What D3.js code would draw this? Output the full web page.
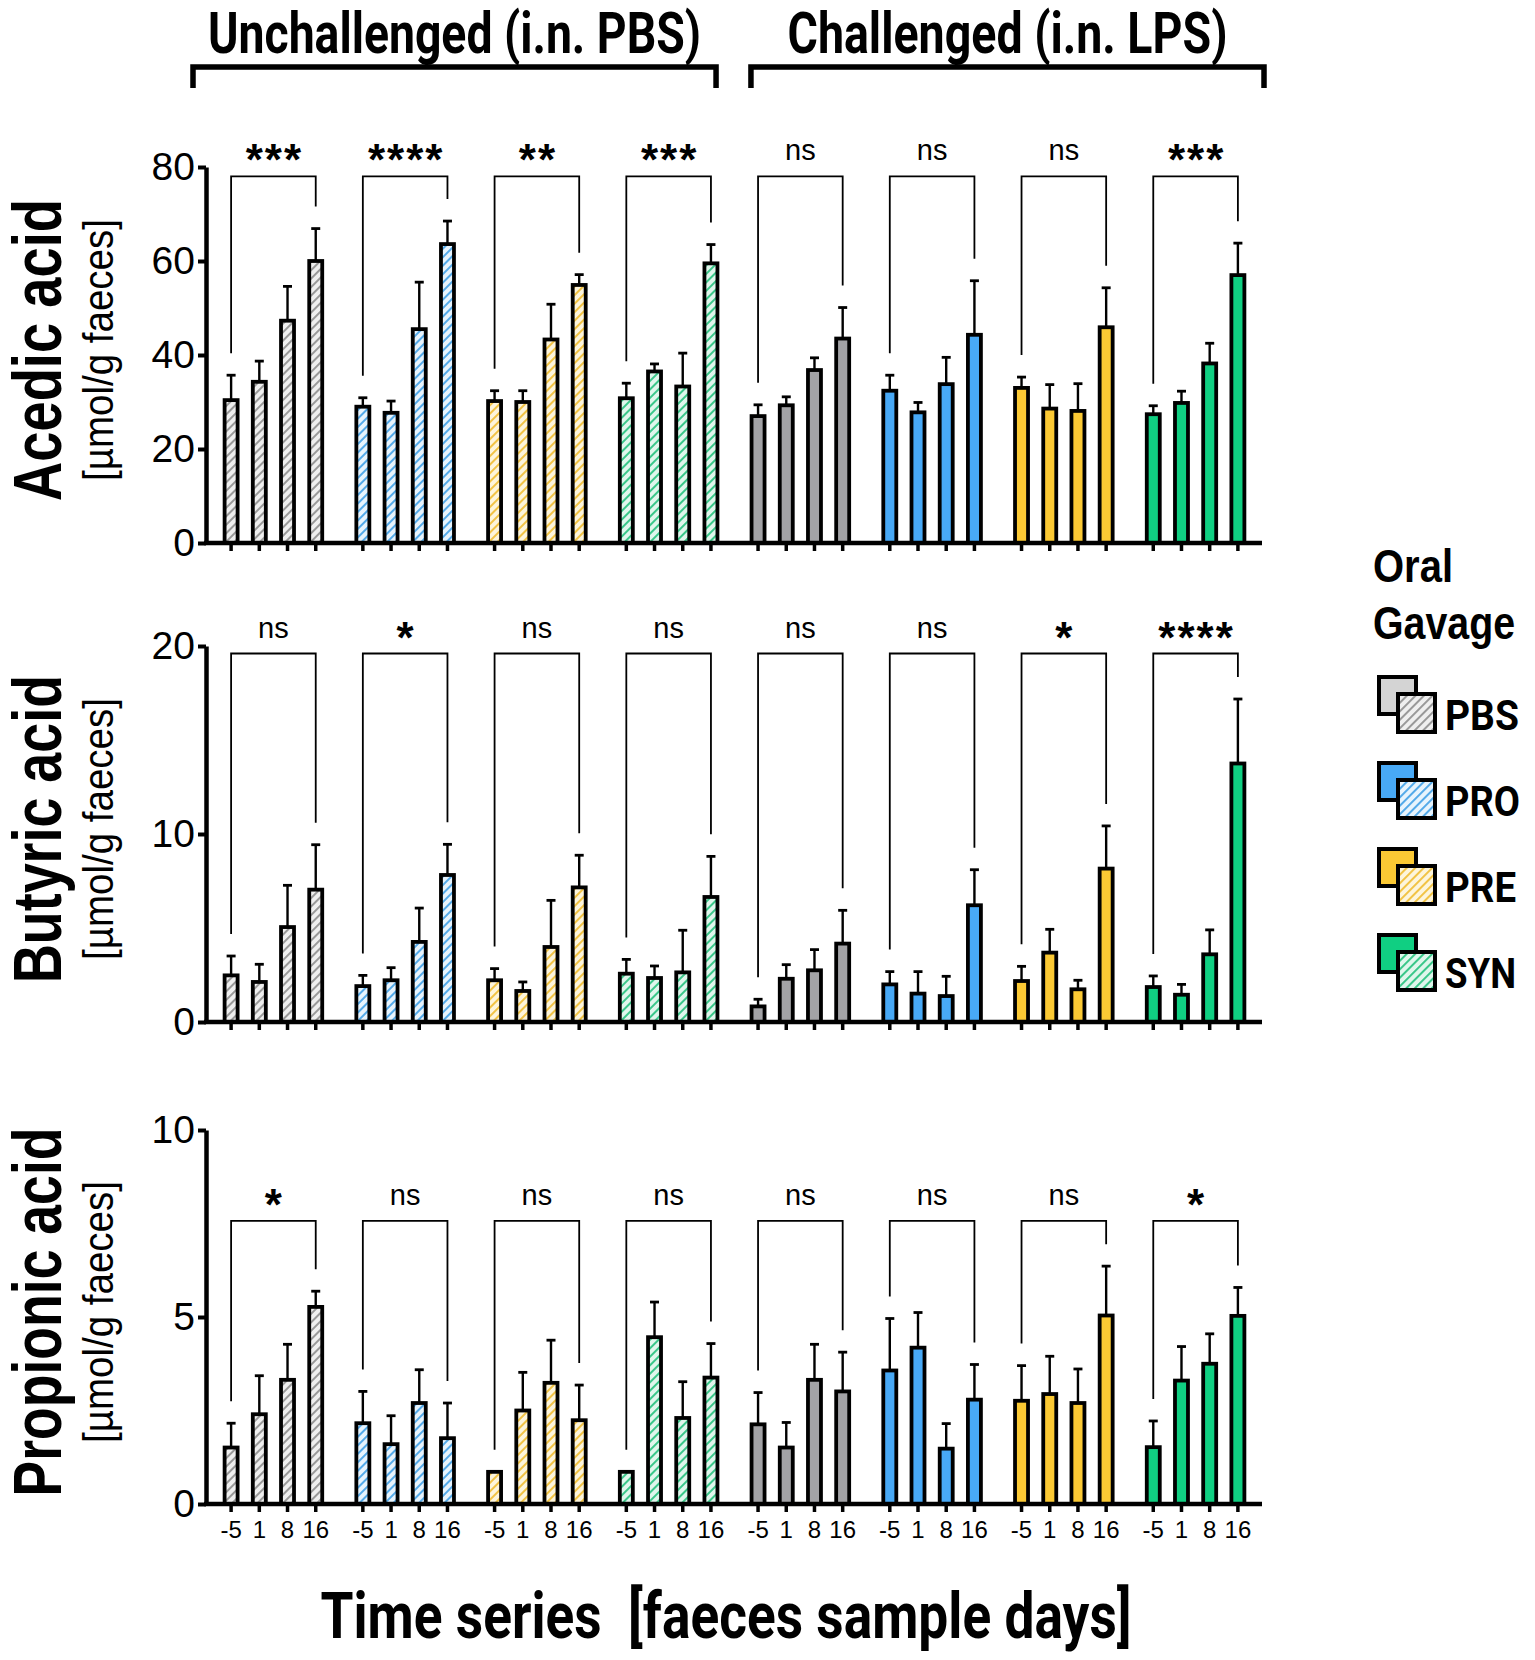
<!DOCTYPE html>
<html>
<head>
<meta charset="utf-8">
<script src="https://cdn.jsdelivr.net/npm/d3@7"></script>
<style>
  body { margin: 0; background: #fff; }
  svg { display: block; }
</style>
</head>
<body>
<svg id="fig" width="1535" height="1660"></svg>
<script>
// sample days and groups
const days = ['-5', '1', '8', '16'];
const gavages = ['PBS', 'PRO', 'PRE', 'SYN'];
const challenges = ['PBS', 'LPS']; // i.n. PBS = unchallenged, i.n. LPS = challenged
const groupKeys = challenges.flatMap(c => gavages.map(g => c + '_' + g));

// means per group (unchallenged PBS, PRO, PRE, SYN, then challenged ...), one value per day
const aceticMean = [
    [30.4, 34.3, 47.3, 60.0], [29.0, 27.7, 45.5, 63.6], [30.2, 30.0, 43.3, 54.9], [30.8, 36.5, 33.3, 59.5],
    [27.0, 29.3, 36.8, 43.5], [32.4, 27.8, 33.8, 44.3], [33.0, 28.6, 28.1, 45.9], [27.4, 29.8, 38.2, 57.0]
];
const aceticSd = [
    [5.3, 4.4, 7.3, 6.9], [1.9, 2.5, 10.0, 4.9], [2.2, 2.4, 7.5, 2.2], [3.2, 1.6, 7.1, 4.0],
    [2.4, 1.8, 2.6, 6.6], [3.3, 2.1, 5.7, 11.5], [2.3, 5.1, 5.8, 8.4], [1.8, 2.5, 4.3, 6.8]
];
const aceticSig = ['***', '****', '**', '***', 'ns', 'ns', 'ns', '***'];

const butyricMean = [
    [2.48, 2.13, 5.05, 7.04], [1.91, 2.22, 4.26, 7.82], [2.22, 1.65, 3.99, 7.16], [2.57, 2.34, 2.64, 6.65],
    [0.83, 2.30, 2.75, 4.17], [2.00, 1.51, 1.38, 6.21], [2.18, 3.69, 1.74, 8.16], [1.86, 1.45, 3.60, 13.75]
];
const butyricSd = [
    [1.03, 0.94, 2.22, 2.39], [0.57, 0.67, 1.80, 1.63], [0.62, 0.48, 2.48, 1.71], [0.76, 0.64, 2.24, 2.16],
    [0.38, 0.75, 1.10, 1.77], [0.68, 1.17, 1.05, 1.89], [0.78, 1.24, 0.48, 2.27], [0.59, 0.55, 1.30, 3.43]
];
const butyricSig = ['ns', '*', 'ns', 'ns', 'ns', 'ns', '*', '****'];

const propionicMean = [
    [1.51, 2.40, 3.32, 5.27], [2.16, 1.60, 2.70, 1.76], [0.86, 2.50, 3.24, 2.24], [0.86, 4.46, 2.30, 3.38],
    [2.13, 1.51, 3.32, 3.01], [3.57, 4.18, 1.48, 2.79], [2.76, 2.94, 2.70, 5.04], [1.52, 3.30, 3.75, 5.03]
];
const propionicSd = [
    [0.65, 1.03, 0.95, 0.42], [0.85, 0.76, 0.89, 0.94], [0, 1.02, 1.14, 0.94], [0, 0.94, 0.97, 0.91],
    [0.85, 0.67, 0.95, 1.05], [1.39, 0.94, 0.67, 0.94], [0.94, 1.01, 0.91, 1.32], [0.70, 0.91, 0.80, 0.76]
];
const propionicSig = ['*', 'ns', 'ns', 'ns', 'ns', 'ns', 'ns', '*'];

const aceticTicks = [0, 20, 40, 60, 80];
const butyricTicks = [0, 10, 20];
const propionicTicks = [0, 5, 10];

// colours
const solidColor = { PBS: '#a3a3a6', PRO: '#48a9f6', PRE: '#fbc934', SYN: '#10cf82' };
const hatchLine = { PBS: '#8a8a8a', PRO: '#3a9de6', PRE: '#f0ba2a', SYN: '#1dbf78' };
const hatchBg = { PBS: '#efefef', PRO: '#e8f4fd', PRE: '#fdf5dc', SYN: '#e0f6ec' };
const legendBack = { PBS: '#d4d4d4', PRO: '#48a9f6', PRE: '#fbc934', SYN: '#10cf82' };

const panels = [
    { label: 'Acedic acid', mean: aceticMean, sd: aceticSd, sig: aceticSig, ticks: aceticTicks, max: 80, bracketAt: 78, top: 167, bottom: 543, labelLen: 302 },
    { label: 'Butyric acid', mean: butyricMean, sd: butyricSd, sig: butyricSig, ticks: butyricTicks, max: 20, bracketAt: 19.6, top: 646, bottom: 1022, labelLen: 308 },
    { label: 'Propionic acid', mean: propionicMean, sd: propionicSd, sig: propionicSig, ticks: propionicTicks, max: 10, bracketAt: 7.57, top: 1130, bottom: 1504, labelLen: 369 }
];

const svg = d3.select('#fig');
const axisX = 206, axisEnd = 1262;
const barW = 13;
const condensed = 'Roboto, "Liberation Sans Narrow", sans-serif';

const defs = svg.append('defs');
gavages.forEach(g => {
    const p = defs.append('pattern')
        .attr('id', 'hatch-' + g)
        .attr('patternUnits', 'userSpaceOnUse')
        .attr('width', 6).attr('height', 6)
        .attr('patternTransform', 'rotate(45)');
    p.append('rect').attr('width', 6).attr('height', 6).attr('fill', hatchBg[g]);
    p.append('line').attr('x1', 3).attr('y1', 0).attr('x2', 3).attr('y2', 6)
        .attr('stroke', hatchLine[g]).attr('stroke-width', 1.7);
});

const xGroup = d3.scaleBand().domain(groupKeys).range([217, 1252]).paddingInner(0.1435).paddingOuter(0);
const xDay = d3.scaleBand().domain(days).range([0, xGroup.bandwidth()]);
const cx = (k, d) => xGroup(k) + xDay(d) + xDay.bandwidth() / 2;

panels.forEach((p, pi) => {
    const y = d3.scaleLinear().domain([0, p.max]).range([p.bottom, p.top]);
    const g = svg.append('g');
    const isLast = pi === panels.length - 1;

    // error bars
    groupKeys.forEach((k, gi) => {
        days.forEach((d, di) => {
            const v = p.mean[gi][di], s = p.sd[gi][di];
            if (s <= 0) return;
            g.append('line').attr('x1', cx(k, d)).attr('x2', cx(k, d))
                .attr('y1', y(v)).attr('y2', y(v + s))
                .attr('stroke', '#000').attr('stroke-width', 2.4);
            g.append('line').attr('x1', cx(k, d) - 4.5).attr('x2', cx(k, d) + 4.5)
                .attr('y1', y(v + s)).attr('y2', y(v + s))
                .attr('stroke', '#000').attr('stroke-width', 2.8);
        });
    });

    // bars
    groupKeys.forEach((k, gi) => {
        const gav = gavages[gi % 4];
        const solid = gi >= 4;
        g.selectAll(null).data(days).join('rect')
            .attr('x', d => cx(k, d) - barW / 2)
            .attr('y', (d, di) => y(p.mean[gi][di]))
            .attr('width', barW)
            .attr('height', (d, di) => y(0) - y(p.mean[gi][di]))
            .attr('fill', solid ? solidColor[gav] : `url(#hatch-${gav})`)
            .attr('stroke', '#000').attr('stroke-width', 3.8);
    });

    // x axis line and day ticks
    g.append('line').attr('x1', axisX - 2).attr('x2', axisEnd)
        .attr('y1', y(0)).attr('y2', y(0))
        .attr('stroke', '#000').attr('stroke-width', 4.5);
    groupKeys.forEach(k => {
        const ax = g.append('g').attr('transform', `translate(${xGroup(k)},${y(0)})`)
            .call(d3.axisBottom(xDay).tickSize(8).tickPadding(9).tickFormat(d => isLast ? d : ''));
        ax.select('.domain').remove();
        ax.selectAll('.tick line').attr('stroke', '#000').attr('stroke-width', 3.5);
        ax.selectAll('.tick text').attr('font-family', '"Liberation Sans Narrow", sans-serif')
            .attr('font-size', 24).attr('fill', '#000');
    });

    // y axis
    const yAx = g.append('g').attr('transform', `translate(${axisX},0)`)
        .call(d3.axisLeft(y).tickValues(p.ticks).tickSize(8).tickPadding(3).tickSizeOuter(0));
    yAx.select('.domain').attr('stroke', '#000').attr('stroke-width', 4.5);
    yAx.selectAll('.tick line').attr('stroke', '#000').attr('stroke-width', 4);
    yAx.selectAll('.tick text').attr('font-family', '"Liberation Sans", Arial, sans-serif')
        .attr('font-size', 39).attr('fill', '#000');

    // comparison brackets (day -5 vs day 16)
    groupKeys.forEach((k, gi) => {
        const x1 = cx(k, days[0]), x2 = cx(k, days[3]);
        const yb = y(p.bracketAt);
        const leg1 = y(p.mean[gi][0] + p.sd[gi][0]) - 22;
        const leg2 = y(p.mean[gi][3] + p.sd[gi][3]) - 22;
        g.append('path')
            .attr('d', `M${x1},${leg1}V${yb}H${x2}V${leg2}`)
            .attr('fill', 'none').attr('stroke', '#000').attr('stroke-width', 1.8);
        const star = p.sig[gi] !== 'ns';
        g.append('text')
            .attr('x', (x1 + x2) / 2 + (star ? 1 : 0))
            .attr('y', star ? yb - 1 : yb - 16)
            .attr('text-anchor', 'middle')
            .attr('font-family', star ? '"Liberation Sans", Arial, sans-serif' : '"Liberation Sans Narrow", sans-serif')
            .attr('font-weight', star ? 'bold' : 'normal')
            .attr('font-size', star ? 44 : 29)
            .attr('letter-spacing', star ? 2 : 0)
            .text(p.sig[gi]);
    });

    // panel titles
    const midY = (p.top + p.bottom) / 2 - 5;
    g.append('text')
        .attr('transform', `translate(61,${midY}) rotate(-90)`)
        .attr('text-anchor', 'middle')
        .attr('font-family', '"Liberation Sans", Arial, sans-serif')
        .attr('font-weight', 'bold').attr('font-size', 68)
        .attr('textLength', p.labelLen).attr('lengthAdjust', 'spacingAndGlyphs')
        .text(p.label);
    g.append('text')
        .attr('transform', `translate(113,${midY}) rotate(-90)`)
        .attr('text-anchor', 'middle')
        .attr('font-family', '"Liberation Sans Narrow", sans-serif')
        .attr('font-size', 42)
        .attr('textLength', 262).attr('lengthAdjust', 'spacingAndGlyphs')
        .text('[µmol/g faeces]');
});

// header brackets
const headers = [
    { text: 'Unchallenged (i.n. PBS)', x1: xGroup(groupKeys[0]) - 24, x2: xGroup(groupKeys[3]) + xGroup.bandwidth() - 9, len: 493 },
    { text: 'Challenged (i.n. LPS)', x1: xGroup(groupKeys[4]) + 7, x2: axisEnd + 2, len: 440 }
];
headers.forEach(h => {
    svg.append('path').attr('d', `M${h.x1},88V67H${h.x2}V88`)
        .attr('fill', 'none').attr('stroke', '#000').attr('stroke-width', 5.5);
    svg.append('text')
        .attr('x', (h.x1 + h.x2) / 2).attr('y', 53)
        .attr('text-anchor', 'middle')
        .attr('font-family', condensed).attr('font-weight', 'bold').attr('font-size', 58)
        .attr('textLength', h.len).attr('lengthAdjust', 'spacingAndGlyphs')
        .text(h.text);
});

// x title
svg.append('text')
    .attr('x', 726).attr('y', 1638)
    .attr('text-anchor', 'middle')
    .attr('font-family', condensed).attr('font-weight', 'bold').attr('font-size', 65)
    .attr('textLength', 811).attr('lengthAdjust', 'spacingAndGlyphs')
    .attr('xml:space', 'preserve')
    .text('Time series  [faeces sample days]');

// legend
const lg = svg.append('g');
const legendTitle = [{ text: 'Oral', y: 582, len: 80 }, { text: 'Gavage', y: 639, len: 142 }];
lg.selectAll('.lg-title').data(legendTitle).join('text')
    .attr('class', 'lg-title')
    .attr('x', d => 1373 + d.len).attr('y', d => d.y)
    .attr('text-anchor', 'end')
    .attr('font-family', '"Liberation Sans Narrow", sans-serif').attr('font-weight', 'bold').attr('font-size', 46)
    .attr('textLength', d => d.len).attr('lengthAdjust', 'spacingAndGlyphs')
    .text(d => d.text);
const legendLen = { PBS: 74, PRO: 75, PRE: 71, SYN: 71 };
const item = lg.selectAll('.legend').data(gavages).join('g')
    .attr('class', 'legend')
    .attr('transform', (d, i) => `translate(1379,${677 + i * 86})`);
item.append('rect').attr('x', 0).attr('y', 0).attr('width', 37).attr('height', 37)
    .attr('fill', d => legendBack[d]).attr('stroke', '#000').attr('stroke-width', 4);
item.append('rect').attr('x', 19).attr('y', 17).attr('width', 37).attr('height', 38)
    .attr('fill', d => `url(#hatch-${d})`).attr('stroke', '#000').attr('stroke-width', 4);
item.append('text').attr('x', 66).attr('y', 53)
    .attr('font-family', condensed).attr('font-weight', 'bold').attr('font-size', 42)
    .attr('textLength', d => legendLen[d]).attr('lengthAdjust', 'spacingAndGlyphs')
    .text(d => d);
</script>
</body>
</html>
